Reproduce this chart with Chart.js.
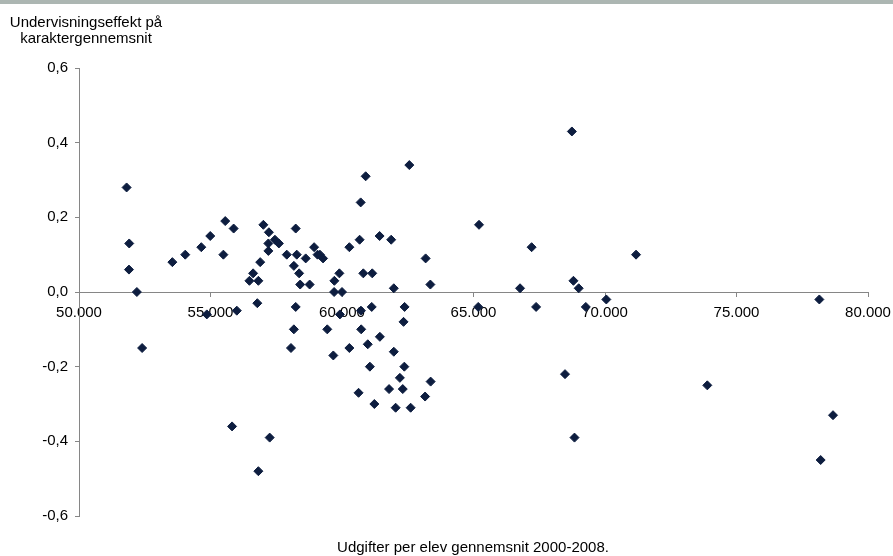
<!DOCTYPE html>
<html>
<head>
<meta charset="utf-8">
<script src="https://cdn.jsdelivr.net/npm/chart.js@4"></script>
<style>
  html, body { margin: 0; padding: 0; background: #fff; }
  #wrap { width: 893px; height: 556px; position: relative; }
</style>
</head>
<body>
<div id="wrap"><canvas id="scatterChart"></canvas></div>
<script>
// expenditure per pupil (DKK) and teaching effect on grade average
const expenditure = [
    51810, 51910, 51900, 52200, 52400, 53550, 54040, 54650, 54990, 55560,
    55880, 55490, 56620, 56480, 56820, 56780, 56000, 54860, 55820, 57250,
    56820, 57010, 57220, 58240, 57450, 57600, 57200, 57200, 56890, 57900,
    58280, 58170, 58370, 58620, 58940, 59070, 59160, 59280, 58410, 58770,
    59700, 60000, 59710, 59900, 60280, 60670, 60810, 61150, 61430, 61870,
    61970, 58240, 60720, 61130, 62380, 62340, 58170, 59440, 60730, 61440,
    59920, 58060, 59670, 60280, 60980, 61970, 61060, 62370, 62200, 63370,
    60630, 61790, 62310, 63160, 61230, 62040, 62610, 62560, 60900, 60710,
    68740, 65210, 63180, 63360, 67210, 71180, 66770, 68800, 69000, 70050,
    65180, 67380, 69270, 78150, 68480, 73890, 78670, 68840, 78200
];
const effect = [
    0.28, 0.13, 0.06, 0.00, -0.15, 0.08, 0.10, 0.12, 0.15, 0.19,
    0.17, 0.10, 0.05, 0.03, 0.03, -0.03, -0.05, -0.06, -0.36, -0.39,
    -0.48, 0.18, 0.16, 0.17, 0.14, 0.13, 0.13, 0.11, 0.08, 0.10,
    0.10, 0.07, 0.05, 0.09, 0.12, 0.10, 0.10, 0.09, 0.02, 0.02,
    0.00, 0.00, 0.03, 0.05, 0.12, 0.14, 0.05, 0.05, 0.15, 0.14,
    0.01, -0.04, -0.05, -0.04, -0.04, -0.08, -0.10, -0.10, -0.10, -0.12,
    -0.06, -0.15, -0.17, -0.15, -0.14, -0.16, -0.20, -0.20, -0.23, -0.24,
    -0.27, -0.26, -0.26, -0.28, -0.30, -0.31, -0.31, 0.34, 0.31, 0.24,
    0.43, 0.18, 0.09, 0.02, 0.12, 0.10, 0.01, 0.03, 0.01, -0.02,
    -0.04, -0.04, -0.04, -0.02, -0.22, -0.25, -0.33, -0.39, -0.45
];
const xTickLabels = ['50.000', '55.000', '60.000', '65.000', '70.000', '75.000', '80.000'];
const yTickLabels = ['-0,6', '-0,4', '-0,2', '0,0', '0,2', '0,4', '0,6'];
const yTitleLines = ['Undervisningseffekt på', 'karaktergennemsnit'];
const xTitle = 'Udgifter per elev gennemsnit 2000-2008.';

const FONT = '"Liberation Sans", Arial, sans-serif';
const AXIS_GREY = '#868686';

const titlesPlugin = {
    id: 'titles',
    beforeDraw(chart) {
        const ctx = chart.ctx;
        ctx.save();
        ctx.fillStyle = '#acb6b2';
        ctx.fillRect(0, 0, chart.width, 4);
        ctx.restore();
    },
    afterDraw(chart) {
        const ctx = chart.ctx;
        ctx.save();
        ctx.font = '15px ' + FONT;
        ctx.fillStyle = '#000';
        ctx.textAlign = 'center';
        ctx.textBaseline = 'alphabetic';
        ctx.fillText(yTitleLines[0], 86, 27);
        ctx.fillText(yTitleLines[1], 86, 43);
        ctx.fillText(xTitle, 473, 552);
        ctx.restore();
    }
};

const points = expenditure.map((x, i) => ({ x: x, y: effect[i] }));

new Chart(document.getElementById('scatterChart'), {
    type: 'scatter',
    data: {
        datasets: [{
            data: points,
            pointStyle: 'rectRot',
            pointRadius: 4.5,
            pointBorderWidth: 1,
            backgroundColor: '#0d1d3f',
            borderColor: '#0d1d3f'
        }]
    },
    options: {
        responsive: true,
        maintainAspectRatio: false,
        animation: false,
        layout: { padding: { top: 68, bottom: 40, left: 0, right: 25 } },
        plugins: {
            legend: { display: false },
            tooltip: { enabled: false }
        },
        scales: {
            x: {
                type: 'linear',
                position: { y: 0 },
                min: 50000,
                max: 80000,
                // labels may overhang the plot edges, as in the original
                afterFit: (axis) => { axis.paddingLeft = 0; axis.paddingRight = 0; },
                ticks: {
                    stepSize: 5000,
                    color: '#000',
                    font: { family: FONT, size: 15 },
                    padding: 8,
                    maxRotation: 0,
                    callback: (value, index) => xTickLabels[index]
                },
                grid: { drawOnChartArea: false, drawTicks: true, tickLength: 4, color: AXIS_GREY },
                border: { display: true, color: AXIS_GREY }
            },
            y: {
                type: 'linear',
                position: 'left',
                min: -0.6,
                max: 0.6,
                afterFit: (axis) => { axis.width = 79; },
                ticks: {
                    stepSize: 0.2,
                    color: '#000',
                    font: { family: FONT, size: 15 },
                    padding: 7,
                    callback: (value, index) => yTickLabels[index]
                },
                grid: { drawOnChartArea: false, drawTicks: true, tickLength: 4, color: AXIS_GREY },
                border: { display: true, color: AXIS_GREY }
            }
        }
    },
    plugins: [titlesPlugin]
});
</script>
</body>
</html>
